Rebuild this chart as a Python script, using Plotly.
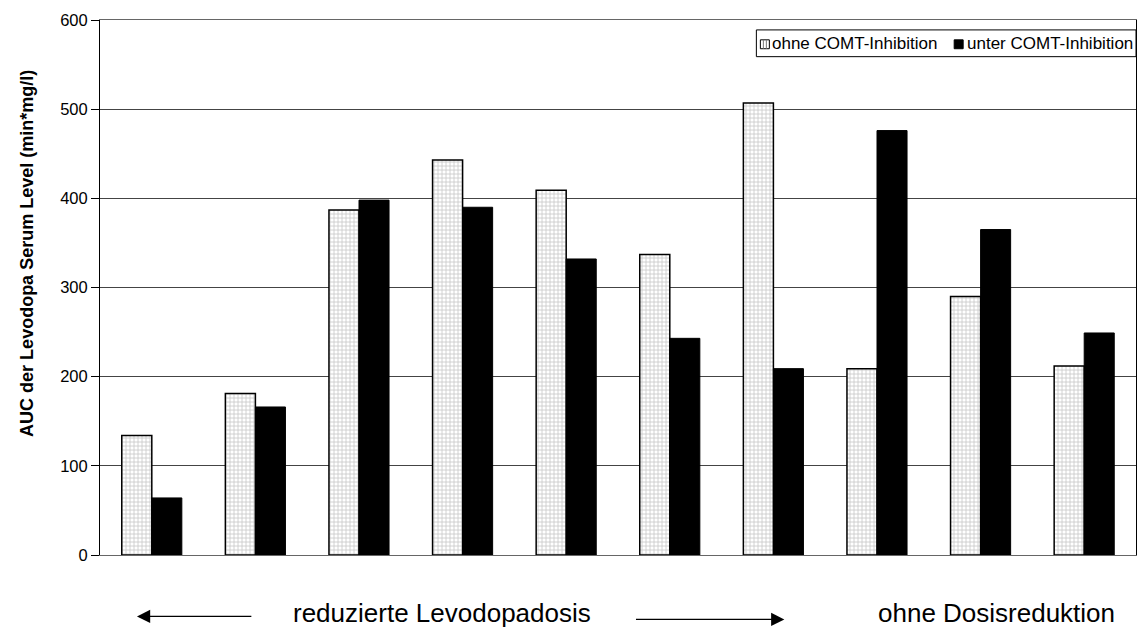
import plotly.graph_objects as go

# Patients 1..10 (no tick labels shown)
patients = [1, 2, 3, 4, 5, 6, 7, 8, 9, 10]
ohne_comt = [134, 181, 387, 443, 409, 337, 507, 209, 290, 212]
unter_comt = [64, 166, 398, 390, 332, 243, 209, 476, 365, 249]
y_ticks = [0, 100, 200, 300, 400, 500, 600]
series_names = ["ohne COMT-Inhibition", "unter COMT-Inhibition"]

FONT = "Liberation Sans, Arial, sans-serif"

# Plot area in pixels
W, H = 1148, 634
L, R, T, B = 100, 1137, 15, 555


def px(x):
    return (x - L) / (R - L)


def py(y):
    return (B - y) / (B - T)


fig = go.Figure()
fig.add_trace(go.Bar(
    x=patients, y=ohne_comt, name=series_names[0],
    marker=dict(
        color="white",
        line=dict(color="black", width=1.5),
        pattern=dict(shape="+", fgcolor="#8a8a8a", bgcolor="white",
                     size=4, solidity=0.35),
    ),
))
fig.add_trace(go.Bar(
    x=patients, y=unter_comt, name=series_names[1],
    marker=dict(color="black", line=dict(color="black", width=1)),
))

fig.update_layout(
    width=W, height=H,
    margin=dict(l=L, r=W - R, t=T, b=H - B),
    paper_bgcolor="white", plot_bgcolor="white",
    barmode="group", bargap=0.42, bargroupgap=0,
    font=dict(family=FONT, size=16, color="black"),
    showlegend=False,
    xaxis=dict(
        range=[0.5, 10.5], showticklabels=False, ticks="",
        showgrid=False, showline=True, linecolor="#666", linewidth=1,
        mirror=True, zeroline=False,
    ),
    yaxis=dict(
        range=[0, 600], tickvals=y_ticks, ticks="outside", ticklen=8,
        tickcolor="black", showgrid=True, gridcolor="#444", gridwidth=1,
        showline=True, linecolor="black", linewidth=1, mirror=True,
        zeroline=False, tickfont=dict(family=FONT, size=16.5, color="black"),
    ),
)

# Legend box with its two swatches
shapes = [
    dict(type="rect", xref="paper", yref="paper",
         x0=px(757), x1=px(1137), y0=py(52), y1=py(25),
         line=dict(color="black", width=1), fillcolor="white", layer="above"),
    dict(type="rect", xref="paper", yref="paper",
         x0=px(761), x1=px(770), y0=py(44), y1=py(35),
         line=dict(color="black", width=1), fillcolor="white", layer="above"),
    dict(type="rect", xref="paper", yref="paper",
         x0=px(955), x1=px(964), y0=py(44), y1=py(35),
         line=dict(color="black", width=1), fillcolor="black", layer="above"),
]
for lx in (764, 767):
    shapes.append(dict(type="line", xref="paper", yref="paper",
                       x0=px(lx), x1=px(lx), y0=py(44), y1=py(35),
                       line=dict(color="#777", width=1), layer="above"))
fig.update_layout(shapes=shapes)

fig.add_annotation(
    text=series_names[0], xref="paper", yref="paper",
    x=px(771), y=py(39), xanchor="left", yanchor="middle", showarrow=False,
    font=dict(family=FONT, size=17, color="black"),
)
fig.add_annotation(
    text=series_names[1], xref="paper", yref="paper",
    x=px(966), y=py(39), xanchor="left", yanchor="middle", showarrow=False,
    font=dict(family=FONT, size=17, color="black"),
)

# Y-axis title
fig.add_annotation(
    text="<b>AUC der Levodopa Serum Level (min*mg/l)</b>",
    xref="paper", yref="paper", x=px(27), y=py(251), textangle=-90,
    xanchor="center", yanchor="middle",
    showarrow=False, font=dict(family=FONT, size=18, color="black"),
)

# Bottom labels with arrows
fig.add_annotation(
    text="reduzierte Levodopadosis", xref="paper", yref="paper",
    x=px(442), y=py(614), xanchor="center", yanchor="middle",
    showarrow=False, font=dict(family=FONT, size=26, color="black"),
)
fig.add_annotation(
    text="ohne Dosisreduktion", xref="paper", yref="paper",
    x=px(997), y=py(614), xanchor="center", yanchor="middle",
    showarrow=False, font=dict(family=FONT, size=26, color="black"),
)
for tip, tail, ay in [(137, 253, 617), (785, 635, 620)]:
    fig.add_annotation(
        xref="x domain", yref="y domain", axref="x domain", ayref="y domain",
        x=px(tip), y=py(ay), ax=px(tail), ay=py(ay),
        showarrow=True, arrowhead=2, arrowsize=2.2, arrowwidth=1.2,
        arrowcolor="black", text="",
    )

fig.write_html("out.html")
